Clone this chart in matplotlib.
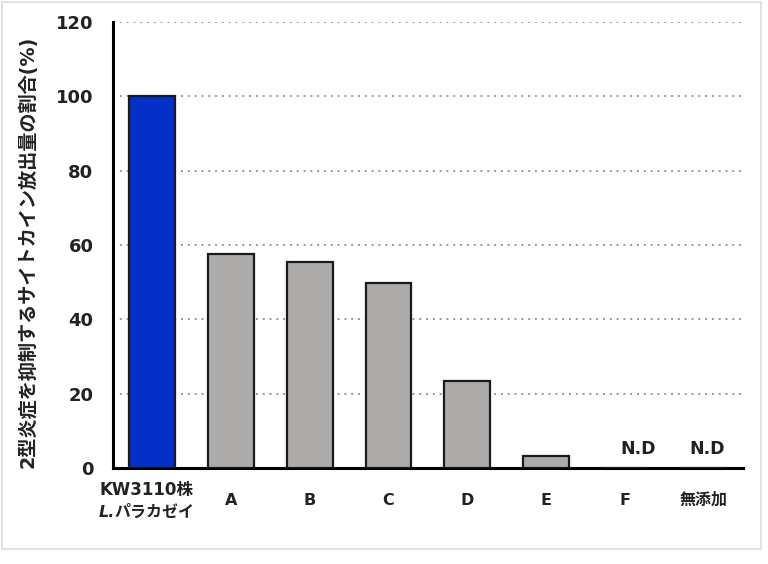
import numpy as np
import matplotlib.pyplot as plt
from matplotlib.patches import Rectangle

plt.rcParams['font.family'] = ['DejaVu Sans', 'Noto Sans CJK JP']

# data
categories = ['KW3110株', 'A', 'B', 'C', 'D', 'E', 'F', '無添加']
species_prefix = 'L.'
species_name = 'パラカゼイ'
values = [100, 57.6, 55.5, 49.8, 23.3, 3.2, 0, 0]
nd_flags = [False, False, False, False, False, False, True, True]
colors = ['#0530C8'] + ['#AEABAB'] * 7
yticks = [0, 20, 40, 60, 80, 100, 120]
ylabel = '2型炎症を抑制するサイトカイン放出量の割合(%)'

fig = plt.figure(figsize=(7.68, 5.64), dpi=100)
fig.patches.append(Rectangle((0.003, 0.027), 0.988, 0.969, transform=fig.transFigure,
                             fill=False, edgecolor='#dddddd', linewidth=1.2))
ax = fig.add_axes([0.147, 0.170, 0.820, 0.791])

x = np.arange(len(categories))
ax.bar(x, values, width=0.58, color=colors, edgecolor='#1a1a1a', linewidth=1.6, zorder=3)
nd_shift = {6: 0.17, 7: 0.05}
for xi, v, nd in zip(x, values, nd_flags):
    if nd:
        ax.text(xi + nd_shift.get(xi, 0.1), 2.6, 'N.D', ha='center', va='bottom',
                fontsize=12.5, fontweight='bold', color='#222222')

ax.set_xlim(-0.5, 7.5)
ax.set_ylim(0, 120)
ax.set_yticks(yticks)
ax.set_yticklabels([str(t) for t in yticks], fontsize=13, fontweight='bold', color='#222222')
ax.set_xticks(x)
ax.set_xticklabels([''] + categories[1:], fontsize=11.5, fontweight='bold', color='#222222',
                   va='center')
ax.tick_params(axis='y', length=0, pad=14)
ax.tick_params(axis='x', length=0, pad=23)

# two-line label of the first bar
lab_kw = dict(xycoords=('data', 'axes fraction'), textcoords='offset points',
              va='center', fontweight='bold', color='#222222', annotation_clip=False)
ax.annotate(categories[0], (x[0], 0), xytext=(-4.5, -16), ha='center', fontsize=12, **lab_kw)
ax.annotate(species_prefix, (x[0], 0), xytext=(-27, -32), ha='right', fontsize=11.5,
            fontstyle='italic', **lab_kw)
ax.annotate(species_name, (x[0], 0), xytext=(-27.5, -32), ha='left', fontsize=11.5, **lab_kw)

for t in yticks[1:]:
    ax.axhline(t, color='#999999', linestyle=(0, (1, 2.5)), linewidth=1.4, zorder=1)

ax.spines['top'].set_visible(False)
ax.spines['right'].set_visible(False)
ax.spines['left'].set_linewidth(2.2)
ax.spines['bottom'].set_linewidth(2.2)
ax.set_ylabel(ylabel, fontsize=13.8, fontweight='bold', labelpad=12, color='#222222')
ax.yaxis.set_label_coords(-0.12, 0.485)

fig.savefig('out.png', dpi=100)
